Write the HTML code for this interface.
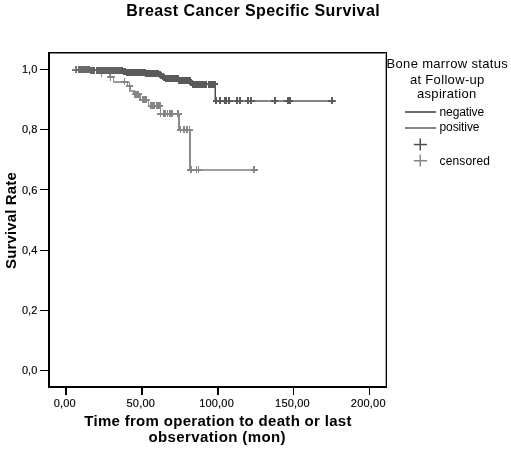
<!DOCTYPE html>
<html><head><meta charset="utf-8"><style>
html,body{margin:0;padding:0;background:#fff;}
svg{display:block;filter:grayscale(1);}
text{font-family:"Liberation Sans", sans-serif;fill:#000;}
</style></head><body>
<svg width="511" height="450" viewBox="0 0 511 450" shape-rendering="crispEdges">
<rect x="0" y="0" width="511" height="450" fill="#fff"/>
<!-- title -->
<text x="253.2" y="15.5" text-anchor="middle" font-size="16" font-weight="bold" letter-spacing="0.41">Breast Cancer Specific Survival</text>
<!-- curves -->
<g>
<rect x="75.8" y="68.5" width="22.2" height="2" fill="#9e9e9e"/>
<rect x="96.25" y="69.5" width="1.5" height="3.5" fill="#8c8c8c"/>
<rect x="96.0" y="72.0" width="14.5" height="2" fill="#9e9e9e"/>
<rect x="108.75" y="73" width="1.5" height="4.4" fill="#8c8c8c"/>
<rect x="108.5" y="76.4" width="6.0" height="2" fill="#9e9e9e"/>
<rect x="112.75" y="77.4" width="1.5" height="4.2" fill="#8c8c8c"/>
<rect x="112.5" y="80.6" width="16.1" height="2" fill="#9e9e9e"/>
<rect x="126.85" y="81.6" width="1.5" height="4.1" fill="#8c8c8c"/>
<rect x="126.6" y="84.7" width="4.4" height="2" fill="#9e9e9e"/>
<rect x="129.25" y="85.7" width="1.5" height="4.8" fill="#8c8c8c"/>
<rect x="129.0" y="89.5" width="6.0" height="2" fill="#9e9e9e"/>
<rect x="133.25" y="90.5" width="1.5" height="3.8" fill="#8c8c8c"/>
<rect x="133.0" y="93.3" width="8.0" height="2" fill="#9e9e9e"/>
<rect x="139.25" y="94.3" width="1.5" height="5.2" fill="#8c8c8c"/>
<rect x="139.0" y="98.5" width="10.5" height="2" fill="#9e9e9e"/>
<rect x="147.75" y="99.5" width="1.5" height="6.0" fill="#8c8c8c"/>
<rect x="147.5" y="104.5" width="14.0" height="2" fill="#9e9e9e"/>
<rect x="159.75" y="105.5" width="1.5" height="8.3" fill="#8c8c8c"/>
<rect x="159.5" y="112.8" width="20.4" height="2" fill="#9e9e9e"/>
<rect x="178.15" y="113.8" width="1.5" height="16.0" fill="#8c8c8c"/>
<rect x="177.9" y="128.8" width="13.3" height="2" fill="#9e9e9e"/>
<rect x="189.45" y="129.8" width="1.5" height="40.0" fill="#8c8c8c"/>
<rect x="189.2" y="168.8" width="68.4" height="2" fill="#9e9e9e"/>
<rect x="100.95" y="69.5" width="1.5" height="7" fill="#868686"/>
<rect x="98.2" y="72.0" width="7" height="2" fill="#868686"/>
<rect x="109.55" y="73.9" width="1.5" height="7" fill="#868686"/>
<rect x="106.8" y="76.4" width="7" height="2" fill="#868686"/>
<rect x="123.65" y="78.1" width="1.5" height="7" fill="#868686"/>
<rect x="120.9" y="80.6" width="7" height="2" fill="#868686"/>
<rect x="128.95" y="82.2" width="1.5" height="7" fill="#868686"/>
<rect x="126.2" y="84.7" width="7" height="2" fill="#868686"/>
<rect x="134.25" y="90.8" width="1.5" height="7" fill="#868686"/>
<rect x="131.5" y="93.3" width="7" height="2" fill="#868686"/>
<rect x="135.85" y="90.8" width="1.5" height="7" fill="#868686"/>
<rect x="133.1" y="93.3" width="7" height="2" fill="#868686"/>
<rect x="137.45" y="90.8" width="1.5" height="7" fill="#868686"/>
<rect x="134.7" y="93.3" width="7" height="2" fill="#868686"/>
<rect x="141.55" y="96.0" width="1.5" height="7" fill="#868686"/>
<rect x="138.8" y="98.5" width="7" height="2" fill="#868686"/>
<rect x="143.25" y="96.0" width="1.5" height="7" fill="#868686"/>
<rect x="140.5" y="98.5" width="7" height="2" fill="#868686"/>
<rect x="145.05" y="96.0" width="1.5" height="7" fill="#868686"/>
<rect x="142.3" y="98.5" width="7" height="2" fill="#868686"/>
<rect x="150.25" y="102.0" width="1.5" height="7" fill="#868686"/>
<rect x="147.5" y="104.5" width="7" height="2" fill="#868686"/>
<rect x="152.05" y="102.0" width="1.5" height="7" fill="#868686"/>
<rect x="149.3" y="104.5" width="7" height="2" fill="#868686"/>
<rect x="153.85" y="102.0" width="1.5" height="7" fill="#868686"/>
<rect x="151.1" y="104.5" width="7" height="2" fill="#868686"/>
<rect x="155.65" y="102.0" width="1.5" height="7" fill="#868686"/>
<rect x="152.9" y="104.5" width="7" height="2" fill="#868686"/>
<rect x="157.45" y="102.0" width="1.5" height="7" fill="#868686"/>
<rect x="154.7" y="104.5" width="7" height="2" fill="#868686"/>
<rect x="159.05" y="102.0" width="1.5" height="7" fill="#868686"/>
<rect x="156.3" y="104.5" width="7" height="2" fill="#868686"/>
<rect x="159.85" y="110.3" width="1.5" height="7" fill="#868686"/>
<rect x="157.1" y="112.8" width="7" height="2" fill="#868686"/>
<rect x="163.05" y="110.3" width="1.5" height="7" fill="#868686"/>
<rect x="160.3" y="112.8" width="7" height="2" fill="#868686"/>
<rect x="164.85" y="110.3" width="1.5" height="7" fill="#868686"/>
<rect x="162.1" y="112.8" width="7" height="2" fill="#868686"/>
<rect x="166.85" y="110.3" width="1.5" height="7" fill="#868686"/>
<rect x="164.1" y="112.8" width="7" height="2" fill="#868686"/>
<rect x="169.25" y="110.3" width="1.5" height="7" fill="#868686"/>
<rect x="166.5" y="112.8" width="7" height="2" fill="#868686"/>
<rect x="171.25" y="110.3" width="1.5" height="7" fill="#868686"/>
<rect x="168.5" y="112.8" width="7" height="2" fill="#868686"/>
<rect x="177.45" y="110.3" width="1.5" height="7" fill="#868686"/>
<rect x="174.7" y="112.8" width="7" height="2" fill="#868686"/>
<rect x="179.75" y="126.3" width="1.5" height="7" fill="#868686"/>
<rect x="177.0" y="128.8" width="7" height="2" fill="#868686"/>
<rect x="183.05" y="126.3" width="1.5" height="7" fill="#868686"/>
<rect x="180.3" y="128.8" width="7" height="2" fill="#868686"/>
<rect x="186.05" y="126.3" width="1.5" height="7" fill="#868686"/>
<rect x="183.3" y="128.8" width="7" height="2" fill="#868686"/>
<rect x="188.75" y="126.3" width="1.5" height="7" fill="#868686"/>
<rect x="186.0" y="128.8" width="7" height="2" fill="#868686"/>
<rect x="190.15" y="166.3" width="1.5" height="7" fill="#868686"/>
<rect x="187.4" y="168.8" width="7" height="2" fill="#868686"/>
<rect x="195.95" y="166.3" width="1.5" height="7" fill="#868686"/>
<rect x="193.2" y="168.8" width="7" height="2" fill="#868686"/>
<rect x="197.75" y="166.3" width="1.5" height="7" fill="#868686"/>
<rect x="195.0" y="168.8" width="7" height="2" fill="#868686"/>
<rect x="253.25" y="166.3" width="1.5" height="7" fill="#868686"/>
<rect x="250.5" y="168.8" width="7" height="2" fill="#868686"/>
<rect x="75.8" y="68.5" width="15.7" height="2" fill="#848484"/>
<rect x="89.5" y="69.5" width="2" height="0.7" fill="#606060"/>
<rect x="89.5" y="69.2" width="34.0" height="2" fill="#848484"/>
<rect x="121.5" y="70.2" width="2" height="2.0" fill="#606060"/>
<rect x="121.5" y="71.2" width="12.5" height="2" fill="#848484"/>
<rect x="132.0" y="72.2" width="2" height="0.4" fill="#606060"/>
<rect x="132.0" y="71.6" width="14.0" height="2" fill="#848484"/>
<rect x="144.0" y="72.6" width="2" height="1.3" fill="#606060"/>
<rect x="144.0" y="72.9" width="16.5" height="2" fill="#848484"/>
<rect x="158.5" y="73.9" width="2" height="1.0" fill="#606060"/>
<rect x="158.5" y="73.9" width="4.0" height="2" fill="#848484"/>
<rect x="160.5" y="74.9" width="2" height="1.1" fill="#606060"/>
<rect x="160.5" y="75.0" width="4.0" height="2" fill="#848484"/>
<rect x="162.5" y="76" width="2" height="1.2" fill="#606060"/>
<rect x="162.5" y="76.2" width="3.5" height="2" fill="#848484"/>
<rect x="164.0" y="77.2" width="2" height="0.9" fill="#606060"/>
<rect x="164.0" y="77.1" width="14.5" height="2" fill="#848484"/>
<rect x="176.5" y="78.1" width="2" height="2.4" fill="#606060"/>
<rect x="176.5" y="79.5" width="15.0" height="2" fill="#848484"/>
<rect x="189.5" y="80.5" width="2" height="3.7" fill="#606060"/>
<rect x="189.5" y="83.2" width="26.5" height="2" fill="#848484"/>
<rect x="214.0" y="84.2" width="2" height="16.6" fill="#606060"/>
<rect x="214.0" y="99.8" width="122.4" height="2" fill="#848484"/>
<rect x="213.5" y="84.2" width="1" height="16.6" fill="#aaaaaa"/>
<rect x="214.5" y="84.2" width="1.5" height="16.6" fill="#4a4a4a"/>
<rect x="74.8" y="66.0" width="2" height="7" fill="#7a7a7a"/>
<rect x="72.3" y="68.5" width="7" height="2" fill="#7a7a7a"/>
<rect x="77.5" y="66.0" width="2" height="7" fill="#6a6a6a"/>
<rect x="75.0" y="68.5" width="7" height="2" fill="#6a6a6a"/>
<rect x="79.05" y="66.0" width="2" height="7" fill="#6a6a6a"/>
<rect x="76.55" y="68.5" width="7" height="2" fill="#6a6a6a"/>
<rect x="80.6" y="66.0" width="2" height="7" fill="#6a6a6a"/>
<rect x="78.1" y="68.5" width="7" height="2" fill="#6a6a6a"/>
<rect x="82.15" y="66.0" width="2" height="7" fill="#6a6a6a"/>
<rect x="79.65" y="68.5" width="7" height="2" fill="#6a6a6a"/>
<rect x="83.7" y="66.0" width="2" height="7" fill="#6a6a6a"/>
<rect x="81.2" y="68.5" width="7" height="2" fill="#6a6a6a"/>
<rect x="85.25" y="66.0" width="2" height="7" fill="#6a6a6a"/>
<rect x="82.75" y="68.5" width="7" height="2" fill="#6a6a6a"/>
<rect x="86.8" y="66.0" width="2" height="7" fill="#6a6a6a"/>
<rect x="84.3" y="68.5" width="7" height="2" fill="#6a6a6a"/>
<rect x="88.35" y="66.0" width="2" height="7" fill="#6a6a6a"/>
<rect x="85.85" y="68.5" width="7" height="2" fill="#6a6a6a"/>
<rect x="89.9" y="66.7" width="2" height="7" fill="#6a6a6a"/>
<rect x="87.4" y="69.2" width="7" height="2" fill="#6a6a6a"/>
<rect x="91.45" y="66.7" width="2" height="7" fill="#636363"/>
<rect x="88.95" y="69.2" width="7" height="2" fill="#636363"/>
<rect x="93.0" y="66.7" width="2" height="7" fill="#636363"/>
<rect x="90.5" y="69.2" width="7" height="2" fill="#636363"/>
<rect x="96.0" y="66.7" width="2" height="7" fill="#636363"/>
<rect x="93.5" y="69.2" width="7" height="2" fill="#636363"/>
<rect x="97.49" y="66.7" width="2" height="7" fill="#636363"/>
<rect x="94.99" y="69.2" width="7" height="2" fill="#636363"/>
<rect x="98.99" y="66.7" width="2" height="7" fill="#636363"/>
<rect x="96.49" y="69.2" width="7" height="2" fill="#636363"/>
<rect x="100.48" y="66.7" width="2" height="7" fill="#636363"/>
<rect x="97.98" y="69.2" width="7" height="2" fill="#636363"/>
<rect x="101.97" y="66.7" width="2" height="7" fill="#636363"/>
<rect x="99.47" y="69.2" width="7" height="2" fill="#636363"/>
<rect x="103.47" y="66.7" width="2" height="7" fill="#636363"/>
<rect x="100.97" y="69.2" width="7" height="2" fill="#636363"/>
<rect x="104.96" y="66.7" width="2" height="7" fill="#636363"/>
<rect x="102.46" y="69.2" width="7" height="2" fill="#636363"/>
<rect x="106.45" y="66.7" width="2" height="7" fill="#636363"/>
<rect x="103.95" y="69.2" width="7" height="2" fill="#636363"/>
<rect x="107.95" y="66.7" width="2" height="7" fill="#636363"/>
<rect x="105.45" y="69.2" width="7" height="2" fill="#636363"/>
<rect x="109.44" y="66.7" width="2" height="7" fill="#636363"/>
<rect x="106.94" y="69.2" width="7" height="2" fill="#636363"/>
<rect x="110.93" y="66.7" width="2" height="7" fill="#636363"/>
<rect x="108.43" y="69.2" width="7" height="2" fill="#636363"/>
<rect x="112.42" y="66.7" width="2" height="7" fill="#636363"/>
<rect x="109.92" y="69.2" width="7" height="2" fill="#636363"/>
<rect x="113.92" y="66.7" width="2" height="7" fill="#636363"/>
<rect x="111.42" y="69.2" width="7" height="2" fill="#636363"/>
<rect x="115.41" y="66.7" width="2" height="7" fill="#636363"/>
<rect x="112.91" y="69.2" width="7" height="2" fill="#636363"/>
<rect x="116.9" y="66.7" width="2" height="7" fill="#636363"/>
<rect x="114.4" y="69.2" width="7" height="2" fill="#636363"/>
<rect x="118.4" y="66.7" width="2" height="7" fill="#636363"/>
<rect x="115.9" y="69.2" width="7" height="2" fill="#636363"/>
<rect x="119.89" y="66.7" width="2" height="7" fill="#636363"/>
<rect x="117.39" y="69.2" width="7" height="2" fill="#636363"/>
<rect x="121.38" y="67.25" width="2" height="7" fill="#5a5a5a"/>
<rect x="118.88" y="69.75" width="7" height="2" fill="#5a5a5a"/>
<rect x="122.88" y="67.85" width="2" height="7" fill="#5a5a5a"/>
<rect x="120.38" y="70.35" width="7" height="2" fill="#5a5a5a"/>
<rect x="124.37" y="68.45" width="2" height="7" fill="#5a5a5a"/>
<rect x="121.87" y="70.95" width="7" height="2" fill="#5a5a5a"/>
<rect x="125.86" y="68.7" width="2" height="7" fill="#5a5a5a"/>
<rect x="123.36" y="71.2" width="7" height="2" fill="#5a5a5a"/>
<rect x="127.36" y="68.7" width="2" height="7" fill="#5a5a5a"/>
<rect x="124.86" y="71.2" width="7" height="2" fill="#5a5a5a"/>
<rect x="128.85" y="68.7" width="2" height="7" fill="#5a5a5a"/>
<rect x="126.35" y="71.2" width="7" height="2" fill="#5a5a5a"/>
<rect x="130.34" y="68.7" width="2" height="7" fill="#5a5a5a"/>
<rect x="127.84" y="71.2" width="7" height="2" fill="#5a5a5a"/>
<rect x="131.84" y="68.7" width="2" height="7" fill="#5a5a5a"/>
<rect x="129.34" y="71.2" width="7" height="2" fill="#5a5a5a"/>
<rect x="133.33" y="69.1" width="2" height="7" fill="#5a5a5a"/>
<rect x="130.83" y="71.6" width="7" height="2" fill="#5a5a5a"/>
<rect x="134.82" y="69.1" width="2" height="7" fill="#5a5a5a"/>
<rect x="132.32" y="71.6" width="7" height="2" fill="#5a5a5a"/>
<rect x="136.32" y="69.1" width="2" height="7" fill="#5a5a5a"/>
<rect x="133.82" y="71.6" width="7" height="2" fill="#5a5a5a"/>
<rect x="137.81" y="69.1" width="2" height="7" fill="#5a5a5a"/>
<rect x="135.31" y="71.6" width="7" height="2" fill="#5a5a5a"/>
<rect x="139.3" y="69.1" width="2" height="7" fill="#5a5a5a"/>
<rect x="136.8" y="71.6" width="7" height="2" fill="#5a5a5a"/>
<rect x="140.79" y="69.1" width="2" height="7" fill="#5a5a5a"/>
<rect x="138.29" y="71.6" width="7" height="2" fill="#5a5a5a"/>
<rect x="142.29" y="69.1" width="2" height="7" fill="#5a5a5a"/>
<rect x="139.79" y="71.6" width="7" height="2" fill="#5a5a5a"/>
<rect x="143.78" y="69.1" width="2" height="7" fill="#5a5a5a"/>
<rect x="141.28" y="71.6" width="7" height="2" fill="#5a5a5a"/>
<rect x="145.27" y="70.4" width="2" height="7" fill="#5a5a5a"/>
<rect x="142.77" y="72.9" width="7" height="2" fill="#5a5a5a"/>
<rect x="146.77" y="70.4" width="2" height="7" fill="#5a5a5a"/>
<rect x="144.27" y="72.9" width="7" height="2" fill="#5a5a5a"/>
<rect x="148.26" y="70.4" width="2" height="7" fill="#5a5a5a"/>
<rect x="145.76" y="72.9" width="7" height="2" fill="#5a5a5a"/>
<rect x="149.75" y="70.4" width="2" height="7" fill="#5a5a5a"/>
<rect x="147.25" y="72.9" width="7" height="2" fill="#5a5a5a"/>
<rect x="151.25" y="70.4" width="2" height="7" fill="#5a5a5a"/>
<rect x="148.75" y="72.9" width="7" height="2" fill="#5a5a5a"/>
<rect x="152.74" y="70.4" width="2" height="7" fill="#5a5a5a"/>
<rect x="150.24" y="72.9" width="7" height="2" fill="#5a5a5a"/>
<rect x="154.23" y="70.4" width="2" height="7" fill="#5a5a5a"/>
<rect x="151.73" y="72.9" width="7" height="2" fill="#5a5a5a"/>
<rect x="155.73" y="70.4" width="2" height="7" fill="#5a5a5a"/>
<rect x="153.23" y="72.9" width="7" height="2" fill="#5a5a5a"/>
<rect x="157.22" y="70.4" width="2" height="7" fill="#5a5a5a"/>
<rect x="154.72" y="72.9" width="7" height="2" fill="#5a5a5a"/>
<rect x="158.71" y="70.9" width="2" height="7" fill="#5a5a5a"/>
<rect x="156.21" y="73.4" width="7" height="2" fill="#5a5a5a"/>
<rect x="160.21" y="71.94" width="2" height="7" fill="#5a5a5a"/>
<rect x="157.71" y="74.44" width="7" height="2" fill="#5a5a5a"/>
<rect x="161.7" y="72.99" width="2" height="7" fill="#5a5a5a"/>
<rect x="159.2" y="75.49" width="7" height="2" fill="#5a5a5a"/>
<rect x="163.19" y="74.03" width="2" height="7" fill="#5a5a5a"/>
<rect x="160.69" y="76.53" width="7" height="2" fill="#5a5a5a"/>
<rect x="164.68" y="74.6" width="2" height="7" fill="#5a5a5a"/>
<rect x="162.18" y="77.1" width="7" height="2" fill="#5a5a5a"/>
<rect x="166.18" y="74.6" width="2" height="7" fill="#5a5a5a"/>
<rect x="163.68" y="77.1" width="7" height="2" fill="#5a5a5a"/>
<rect x="167.67" y="74.6" width="2" height="7" fill="#5a5a5a"/>
<rect x="165.17" y="77.1" width="7" height="2" fill="#5a5a5a"/>
<rect x="169.16" y="74.6" width="2" height="7" fill="#5a5a5a"/>
<rect x="166.66" y="77.1" width="7" height="2" fill="#5a5a5a"/>
<rect x="170.66" y="74.6" width="2" height="7" fill="#5a5a5a"/>
<rect x="168.16" y="77.1" width="7" height="2" fill="#5a5a5a"/>
<rect x="172.15" y="74.6" width="2" height="7" fill="#5a5a5a"/>
<rect x="169.65" y="77.1" width="7" height="2" fill="#5a5a5a"/>
<rect x="173.64" y="74.6" width="2" height="7" fill="#5a5a5a"/>
<rect x="171.14" y="77.1" width="7" height="2" fill="#5a5a5a"/>
<rect x="175.14" y="74.6" width="2" height="7" fill="#5a5a5a"/>
<rect x="172.64" y="77.1" width="7" height="2" fill="#5a5a5a"/>
<rect x="176.63" y="75.36" width="2" height="7" fill="#5a5a5a"/>
<rect x="174.13" y="77.86" width="7" height="2" fill="#5a5a5a"/>
<rect x="178.12" y="77.0" width="2" height="7" fill="#5a5a5a"/>
<rect x="175.62" y="79.5" width="7" height="2" fill="#5a5a5a"/>
<rect x="179.62" y="77.0" width="2" height="7" fill="#5a5a5a"/>
<rect x="177.12" y="79.5" width="7" height="2" fill="#5a5a5a"/>
<rect x="181.11" y="77.0" width="2" height="7" fill="#5a5a5a"/>
<rect x="178.61" y="79.5" width="7" height="2" fill="#5a5a5a"/>
<rect x="182.6" y="77.0" width="2" height="7" fill="#5a5a5a"/>
<rect x="180.1" y="79.5" width="7" height="2" fill="#5a5a5a"/>
<rect x="184.1" y="77.0" width="2" height="7" fill="#5a5a5a"/>
<rect x="181.6" y="79.5" width="7" height="2" fill="#5a5a5a"/>
<rect x="185.59" y="77.0" width="2" height="7" fill="#5a5a5a"/>
<rect x="183.09" y="79.5" width="7" height="2" fill="#5a5a5a"/>
<rect x="187.08" y="77.0" width="2" height="7" fill="#5a5a5a"/>
<rect x="184.58" y="79.5" width="7" height="2" fill="#5a5a5a"/>
<rect x="188.58" y="77.0" width="2" height="7" fill="#5a5a5a"/>
<rect x="186.08" y="79.5" width="7" height="2" fill="#5a5a5a"/>
<rect x="190.07" y="78.58" width="2" height="7" fill="#5a5a5a"/>
<rect x="187.57" y="81.08" width="7" height="2" fill="#5a5a5a"/>
<rect x="191.56" y="80.7" width="2" height="7" fill="#5a5a5a"/>
<rect x="189.06" y="83.2" width="7" height="2" fill="#5a5a5a"/>
<rect x="193.05" y="80.7" width="2" height="7" fill="#5a5a5a"/>
<rect x="190.55" y="83.2" width="7" height="2" fill="#5a5a5a"/>
<rect x="194.55" y="80.7" width="2" height="7" fill="#5a5a5a"/>
<rect x="192.05" y="83.2" width="7" height="2" fill="#5a5a5a"/>
<rect x="196.04" y="80.7" width="2" height="7" fill="#5a5a5a"/>
<rect x="193.54" y="83.2" width="7" height="2" fill="#5a5a5a"/>
<rect x="197.53" y="80.7" width="2" height="7" fill="#5a5a5a"/>
<rect x="195.03" y="83.2" width="7" height="2" fill="#5a5a5a"/>
<rect x="199.03" y="80.7" width="2" height="7" fill="#5a5a5a"/>
<rect x="196.53" y="83.2" width="7" height="2" fill="#5a5a5a"/>
<rect x="200.52" y="80.7" width="2" height="7" fill="#5a5a5a"/>
<rect x="198.02" y="83.2" width="7" height="2" fill="#5a5a5a"/>
<rect x="202.01" y="80.7" width="2" height="7" fill="#5a5a5a"/>
<rect x="199.51" y="83.2" width="7" height="2" fill="#5a5a5a"/>
<rect x="203.51" y="80.7" width="2" height="7" fill="#5a5a5a"/>
<rect x="201.01" y="83.2" width="7" height="2" fill="#5a5a5a"/>
<rect x="205.0" y="80.7" width="2" height="7" fill="#5a5a5a"/>
<rect x="202.5" y="83.2" width="7" height="2" fill="#5a5a5a"/>
<rect x="207.5" y="80.7" width="2" height="7" fill="#5a5a5a"/>
<rect x="205.0" y="83.2" width="7" height="2" fill="#5a5a5a"/>
<rect x="209.0" y="80.7" width="2" height="7" fill="#5a5a5a"/>
<rect x="206.5" y="83.2" width="7" height="2" fill="#5a5a5a"/>
<rect x="210.5" y="80.7" width="2" height="7" fill="#5a5a5a"/>
<rect x="208.0" y="83.2" width="7" height="2" fill="#5a5a5a"/>
<rect x="212.0" y="80.7" width="2" height="7" fill="#5a5a5a"/>
<rect x="209.5" y="83.2" width="7" height="2" fill="#5a5a5a"/>
<rect x="213.5" y="80.7" width="2" height="7" fill="#5a5a5a"/>
<rect x="211.0" y="83.2" width="7" height="2" fill="#5a5a5a"/>
<rect x="215.0" y="97.3" width="2" height="7" fill="#5a5a5a"/>
<rect x="212.5" y="99.8" width="7" height="2" fill="#5a5a5a"/>
<rect x="219.3" y="97.3" width="2" height="7" fill="#5a5a5a"/>
<rect x="216.8" y="99.8" width="7" height="2" fill="#5a5a5a"/>
<rect x="223.5" y="97.3" width="2" height="7" fill="#5a5a5a"/>
<rect x="221.0" y="99.8" width="7" height="2" fill="#5a5a5a"/>
<rect x="225.0" y="97.3" width="2" height="7" fill="#5a5a5a"/>
<rect x="222.5" y="99.8" width="7" height="2" fill="#5a5a5a"/>
<rect x="228.0" y="97.3" width="2" height="7" fill="#5a5a5a"/>
<rect x="225.5" y="99.8" width="7" height="2" fill="#5a5a5a"/>
<rect x="236.3" y="97.3" width="2" height="7" fill="#5a5a5a"/>
<rect x="233.8" y="99.8" width="7" height="2" fill="#5a5a5a"/>
<rect x="238.7" y="97.3" width="2" height="7" fill="#5a5a5a"/>
<rect x="236.2" y="99.8" width="7" height="2" fill="#5a5a5a"/>
<rect x="247.0" y="97.3" width="2" height="7" fill="#5a5a5a"/>
<rect x="244.5" y="99.8" width="7" height="2" fill="#5a5a5a"/>
<rect x="250.4" y="97.3" width="2" height="7" fill="#5a5a5a"/>
<rect x="247.9" y="99.8" width="7" height="2" fill="#5a5a5a"/>
<rect x="273.6" y="97.3" width="2" height="7" fill="#5a5a5a"/>
<rect x="271.1" y="99.8" width="7" height="2" fill="#5a5a5a"/>
<rect x="286.5" y="97.3" width="2" height="7" fill="#5a5a5a"/>
<rect x="284.0" y="99.8" width="7" height="2" fill="#5a5a5a"/>
<rect x="288.6" y="97.3" width="2" height="7" fill="#5a5a5a"/>
<rect x="286.1" y="99.8" width="7" height="2" fill="#5a5a5a"/>
<rect x="330.9" y="97.3" width="2" height="7" fill="#5a5a5a"/>
<rect x="328.4" y="99.8" width="7" height="2" fill="#5a5a5a"/>
</g>
<!-- frame -->
<rect x="48" y="52" width="2" height="336" fill="#000"/>
<rect x="48" y="52" width="339" height="1" fill="#000"/>
<rect x="50" y="53" width="335" height="1" fill="#808080"/>
<rect x="386" y="52" width="1" height="336" fill="#000"/>
<rect x="385" y="53" width="1" height="333" fill="#aaa"/>
<rect x="48" y="386" width="339" height="2" fill="#000"/>
<!-- y ticks -->
<g fill="#000">
<rect x="40" y="69" width="8" height="1"/>
<rect x="40" y="129" width="8" height="1"/>
<rect x="40" y="189" width="8" height="1"/>
<rect x="40" y="250" width="8" height="1"/>
<rect x="40" y="310" width="8" height="1"/>
<rect x="40" y="370" width="8" height="1"/>
</g>
<g font-size="11" text-anchor="end" stroke="#000" stroke-width="0.15">
<text x="37.3" y="72.5">1,0</text>
<text x="37.3" y="132.5">0,8</text>
<text x="37.3" y="193.5">0,6</text>
<text x="37.3" y="253.5">0,4</text>
<text x="37.3" y="313.5">0,2</text>
<text x="37.3" y="373.5">0,0</text>
</g>
<!-- x ticks -->
<g fill="#000">
<rect x="65.2" y="388" width="1.5" height="7"/>
<rect x="141.1" y="388" width="1.5" height="7"/>
<rect x="217" y="388" width="1.5" height="7"/>
<rect x="292.9" y="388" width="1.5" height="7"/>
<rect x="368.7" y="388" width="1.5" height="7"/>
</g>
<g font-size="11" text-anchor="middle" letter-spacing="0.2" stroke="#000" stroke-width="0.15">
<text x="64.8" y="407">0,00</text>
<text x="140.8" y="407">50,00</text>
<text x="216.6" y="407">100,00</text>
<text x="292.5" y="407">150,00</text>
<text x="368.3" y="407">200,00</text>
</g>
<!-- axis titles -->
<g font-size="15" font-weight="bold" text-anchor="middle">
<text x="218" y="425.8" letter-spacing="0.31">Time from operation to death or last</text>
<text x="217.2" y="442.4" letter-spacing="0.39">observation (mon)</text>
<text transform="translate(15.8,220.5) rotate(-90)" x="0" y="0" letter-spacing="0.14">Survival Rate</text>
</g>
<!-- legend -->
<g font-size="13" text-anchor="middle" letter-spacing="0.33">
<text x="447.3" y="67.6">Bone marrow status</text>
<text x="447.3" y="83.5">at Follow-up</text>
<text x="446.8" y="98.3">aspiration</text>
</g>
<rect x="405" y="111" width="31" height="2" fill="#6e6e6e"/>
<rect x="405" y="127.35" width="31" height="1.8" fill="#858585"/>
<g font-size="12">
<text x="439.5" y="115.7" letter-spacing="-0.1">negative</text>
<text x="439.5" y="130.9" letter-spacing="-0.1">positive</text>
<text x="439.5" y="164.7" letter-spacing="0.15">censored</text>
</g>
<g shape-rendering="geometricPrecision">
<rect x="413.8" y="143.8" width="13.2" height="1.5" fill="#505050"/>
<rect x="419.5" y="138.4" width="1.5" height="12" fill="#505050"/>
<rect x="413.8" y="160" width="13.2" height="1.5" fill="#858585"/>
<rect x="419.5" y="154.5" width="1.5" height="12" fill="#8c8c8c"/>
</g>
</svg>
</body></html>
